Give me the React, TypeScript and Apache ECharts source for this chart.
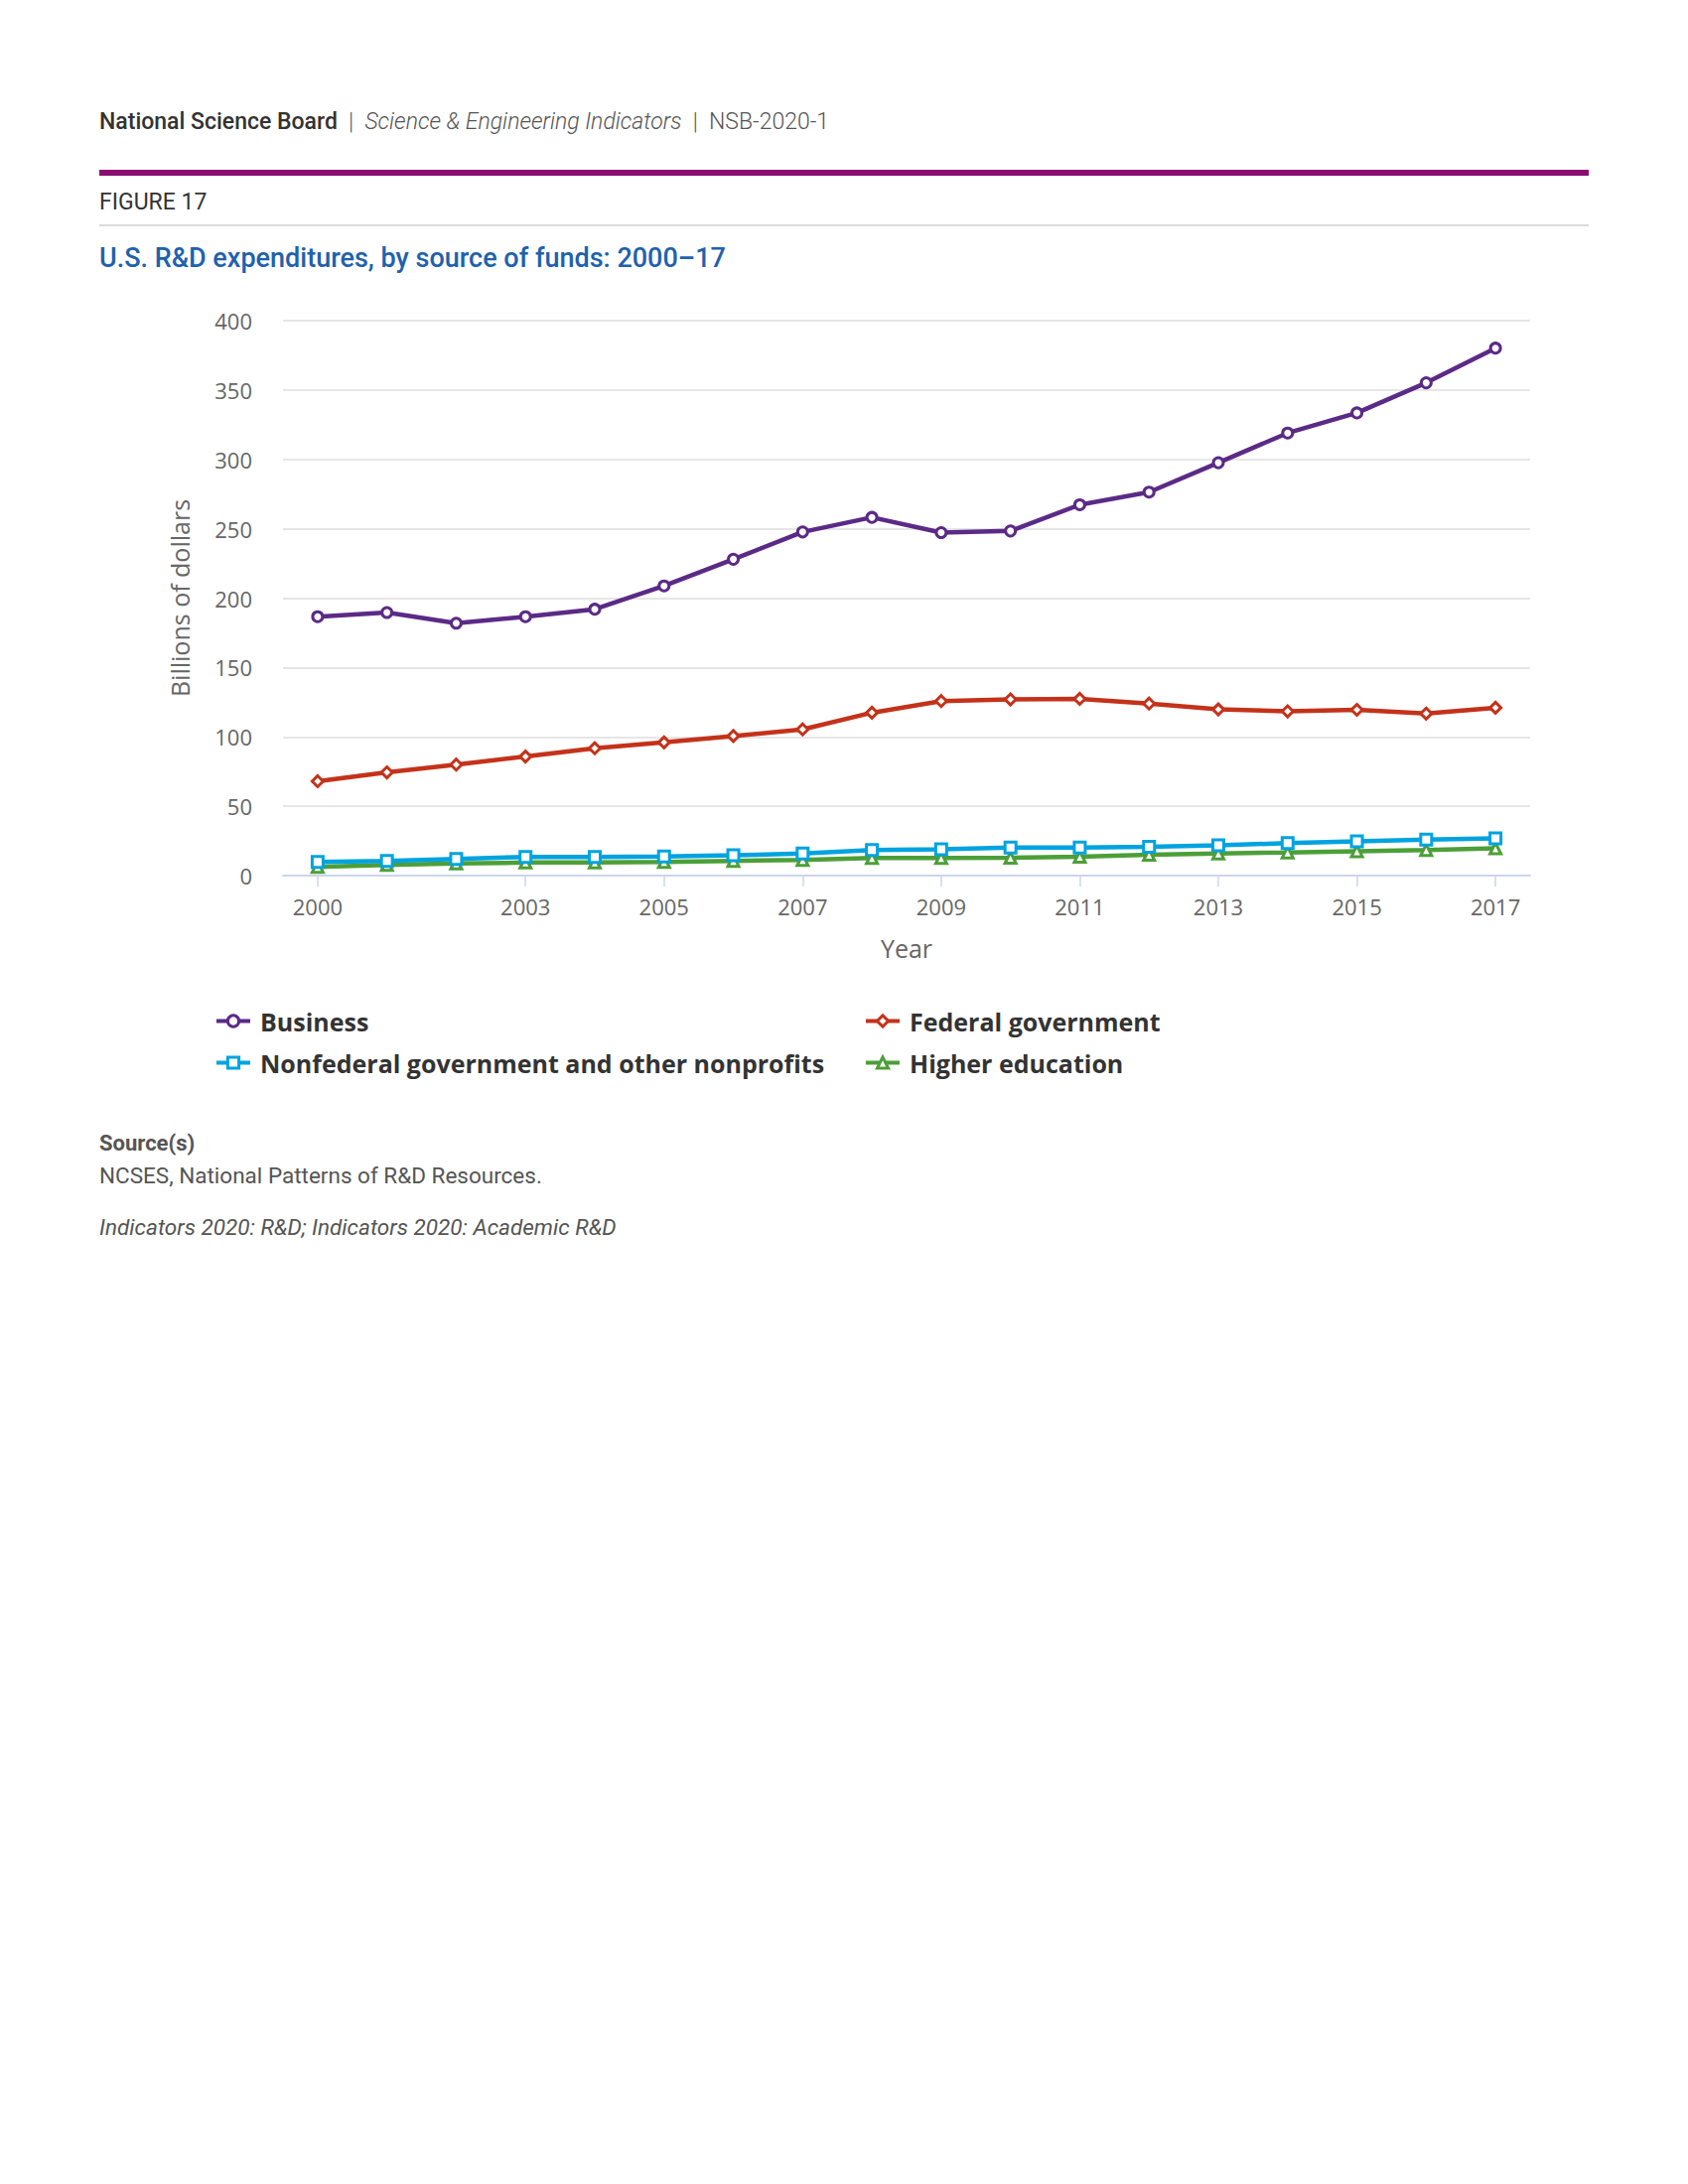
import React, { useEffect, useRef } from "react";
import * as echarts from "echarts";

const years = ["2000","2001","2002","2003","2004","2005","2006","2007","2008","2009","2010","2011","2012","2013","2014","2015","2016","2017"];
const shownYears = ["2000","2003","2005","2007","2009","2011","2013","2015","2017"];
const business = [186.6, 189.6, 181.9, 186.6, 192.0, 208.8, 228.0, 247.7, 258.2, 247.2, 248.4, 267.3, 276.4, 297.6, 319.0, 333.5, 355.2, 380.2];
const federal = [68.0, 74.4, 80.0, 85.8, 91.8, 96.0, 100.6, 105.4, 117.4, 125.8, 127.0, 127.4, 124.0, 119.8, 118.4, 119.5, 116.8, 121.0];
const nonfederal = [9.9, 10.6, 12.0, 13.4, 13.4, 13.8, 14.6, 16.0, 18.5, 19.0, 20.2, 20.2, 20.7, 21.8, 23.4, 24.6, 26.0, 26.9];
const higherEd = [6.3, 7.7, 8.7, 9.4, 9.4, 9.9, 10.6, 11.3, 12.7, 12.7, 12.9, 13.6, 15.0, 16.0, 16.7, 17.6, 18.5, 19.7];
const yMin = 0;
const yMax = 400;
const yStep = 50;

const seriesNames = ["Business", "Federal government", "Nonfederal government and other nonprofits", "Higher education"];
const seriesColors = ["#5b2a86", "#c4321a", "#00a3e0", "#4c9f38"];
const seriesSymbols = ["circle", "diamond", "rect", "triangle"];
const seriesData = [business, federal, nonfederal, higherEd];

export default function App() {
  const ref = useRef<HTMLDivElement>(null);
  useEffect(() => {
    if (!ref.current) return;
    const chart = echarts.init(ref.current, null, { renderer: "svg" });
    const showIdx = (_i: number, v: string) => shownYears.includes(v);
    const series = seriesData.map((d, i) => ({
      name: seriesNames[i],
      type: "line",
      data: d,
      symbol: seriesSymbols[i],
      symbolSize: i === 0 ? 10 : 11,
      showAllSymbol: true,
      z: 10 - i,
      lineStyle: { color: seriesColors[i], width: 4.5 },
      itemStyle: { color: "#ffffff", borderColor: seriesColors[i], borderWidth: 3 },
    }));
    const legendText = { fontSize: 25, fontWeight: "bold", color: "#333333", fontFamily: "Open Sans", lineHeight: 25, padding: [0, 0, 0, 5] };
    const legendCommon = {
      orient: "vertical",
      top: 1011,
      itemWidth: 34,
      itemHeight: 14,
      itemGap: 17,
      lineStyle: { width: 4 },
      itemStyle: { borderWidth: 3 },
      textStyle: legendText,
    };
    chart.setOption({
      animation: false,
      backgroundColor: "#ffffff",
      textStyle: { fontFamily: "Open Sans" },
      grid: { left: 285, right: 159, top: 323, bottom: 1318, containLabel: false },
      xAxis: {
        type: "category",
        data: years,
        boundaryGap: true,
        name: "Year",
        nameLocation: "middle",
        nameGap: 60,
        nameTextStyle: { fontSize: 25, color: "#666666", fontFamily: "Open Sans" },
        axisLine: { show: true, lineStyle: { color: "#ccd6eb", width: 2 } },
        axisTick: { show: true, alignWithLabel: true, interval: showIdx, length: 11, lineStyle: { color: "#ccd6eb", width: 1.5 } },
        axisLabel: { interval: showIdx, fontSize: 22, color: "#666666", margin: 20, fontFamily: "Open Sans" },
        splitLine: { show: false },
      },
      yAxis: {
        type: "value",
        min: yMin,
        max: yMax,
        interval: yStep,
        name: "Billions of dollars",
        nameLocation: "middle",
        nameGap: 92,
        nameRotate: 90,
        nameTextStyle: { fontSize: 25, color: "#666666", fontFamily: "Open Sans" },
        axisLine: { show: false },
        axisTick: { show: false },
        axisLabel: { fontSize: 22, color: "#666666", margin: 31, fontFamily: "Open Sans" },
        splitLine: { lineStyle: { color: "#e6e6e6", width: 2 } },
      },
      legend: [
        { ...legendCommon, data: [seriesNames[0], seriesNames[2]], left: 211 },
        { ...legendCommon, data: [seriesNames[1], seriesNames[3]], left: 865 },
      ],
      series,
      graphic: [
        {
          type: "text",
          left: 100,
          top: 111,
          style: {
            text: "{a|National Science Board}{s|  |  }{b|Science & Engineering Indicators}{s|  |  }{c|NSB-2020-1}",
            rich: {
              a: { fontFamily: "Roboto", fontSize: 23, fontWeight: 500, fill: "#333333" },
              s: { fontFamily: "Roboto", fontSize: 23, fontWeight: 300, fill: "#555555" },
              b: { fontFamily: "Roboto", fontSize: 23, fontWeight: 300, fontStyle: "italic", fill: "#555555" },
              c: { fontFamily: "Roboto", fontSize: 23, fontWeight: 300, fill: "#555555" },
            },
          },
        },
        { type: "rect", shape: { x: 100, y: 171, width: 1500, height: 6 }, style: { fill: "#8a0d72" } },
        {
          type: "text",
          left: 100,
          top: 192,
          style: { text: "FIGURE 17", fontFamily: "Roboto", fontSize: 23, fontWeight: 400, fill: "#333333" },
        },
        { type: "rect", shape: { x: 100, y: 226, width: 1500, height: 2 }, style: { fill: "#dcdcdc" } },
        {
          type: "text",
          left: 100,
          top: 246,
          style: { text: "U.S. R&D expenditures, by source of funds: 2000\u201317", fontFamily: "Roboto", fontSize: 27, fontWeight: 500, fill: "#2161ad" },
        },
        {
          type: "text",
          left: 100,
          top: 1140,
          style: { text: "Source(s)", fontFamily: "Roboto", fontSize: 22, fontWeight: 700, fill: "#555555" },
        },
        {
          type: "text",
          left: 100,
          top: 1172,
          style: { text: "NCSES, National Patterns of R&D Resources.", fontFamily: "Roboto", fontSize: 22.5, fontWeight: 400, fill: "#555555" },
        },
        {
          type: "text",
          left: 100,
          top: 1224,
          style: { text: "Indicators 2020: R&D; Indicators 2020: Academic R&D", fontFamily: "Roboto", fontSize: 22.5, fontWeight: 400, fontStyle: "italic", fill: "#555555" },
        },
      ],
    });
    return () => chart.dispose();
  }, []);
  return <div ref={ref} style={{ position: "absolute", left: 0, top: 0, width: 1700, height: 2200 }} />;
}
